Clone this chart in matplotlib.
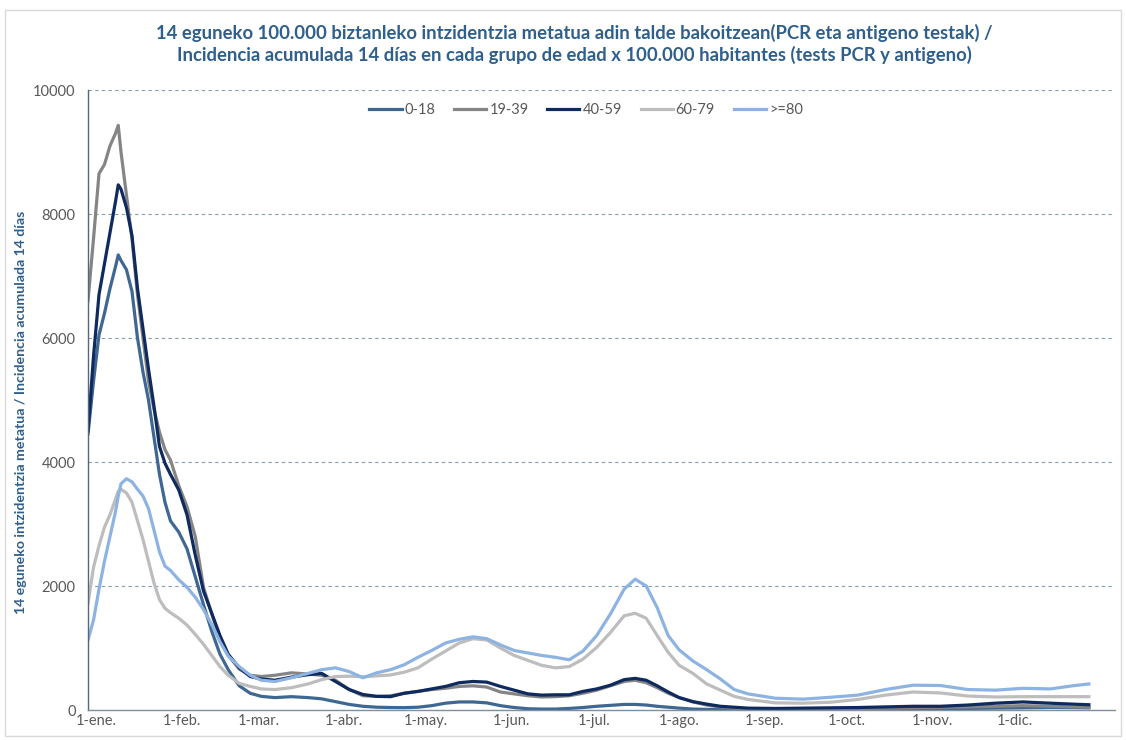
import matplotlib
matplotlib.use("Agg")
import matplotlib.pyplot as plt
from matplotlib.patches import Rectangle

# ---- data (day of year, 0 = 1 January) ----
days = [0, 2, 4, 6, 8, 10, 11, 12, 14, 16, 18, 20, 22, 24, 26, 28, 30, 33, 36, 39,
        42, 45, 48, 51, 55, 59, 63, 68, 74, 80, 85, 90, 95, 100, 105, 110, 115, 120,
        125, 130, 135, 140, 145, 150, 155, 160, 165, 170, 175, 180, 185, 190, 195, 199,
        203, 207, 211, 215, 220, 225, 230, 235, 240, 250, 260, 270, 280, 290, 300, 310,
        320, 330, 340, 350, 358, 364]

age_0_18 = [4450, 5300, 6050, 6400, 6800, 7150, 7340, 7250, 7100, 6750, 6000, 5450, 5000, 4400,
            3800, 3350, 3050, 2870, 2600, 2150, 1700, 1270, 900, 650, 390, 270, 220, 200, 215,
            200, 180, 135, 90, 60, 45, 40, 38, 45, 70, 110, 130, 130, 115, 70, 40, 20, 15, 15,
            25, 40, 60, 75, 90, 90, 80, 60, 45, 30, 15, 10, 10, 10, 10, 12, 12, 15, 15, 18,
            20, 22, 25, 30, 35, 40, 38, 35]

age_19_39 = [6600, 7600, 8650, 8800, 9100, 9300, 9430, 9000, 8300, 7600, 6700, 6000, 5300, 4850,
             4480, 4200, 4030, 3620, 3280, 2800, 1980, 1550, 1150, 880, 660, 560, 540, 560, 600,
             580, 560, 480, 330, 230, 220, 230, 270, 300, 330, 350, 380, 390, 370, 290, 260, 230,
             210, 215, 230, 270, 320, 390, 460, 480, 440, 360, 270, 200, 130, 80, 50, 30, 20, 15,
             15, 20, 25, 30, 40, 45, 50, 60, 70, 60, 50, 45]

age_40_59 = [4500, 5700, 6700, 7200, 7700, 8200, 8470, 8400, 8100, 7650, 6800, 6150, 5500, 4900,
             4250, 3980, 3800, 3550, 3150, 2500, 1920, 1560, 1200, 900, 680, 540, 500, 480, 530,
             570, 590, 460, 330, 250, 220, 215, 270, 300, 340, 380, 440, 460, 450, 380, 320, 260,
             240, 245, 245, 300, 340, 400, 490, 510, 480, 390, 290, 200, 135, 95, 60, 45, 30, 25,
             30, 35, 40, 50, 60, 60, 80, 110, 130, 110, 95, 85]

age_60_79 = [1720, 2300, 2650, 2950, 3150, 3400, 3530, 3560, 3500, 3350, 3050, 2750, 2400, 2050,
             1780, 1640, 1570, 1480, 1370, 1220, 1060, 880, 700, 560, 430, 380, 340, 330, 360,
             420, 490, 540, 545, 535, 550, 565, 610, 680, 820, 950, 1080, 1150, 1130, 1000, 880,
             800, 720, 680, 700, 820, 1010, 1250, 1520, 1560, 1480, 1200, 930, 720, 590, 420,
             320, 220, 170, 115, 110, 125, 170, 240, 290, 275, 225, 210, 215, 215, 215, 215]

age_80_plus = [1130, 1450, 1950, 2400, 2800, 3200, 3450, 3650, 3730, 3680, 3560, 3450, 3250, 2900,
               2550, 2320, 2250, 2100, 1980, 1820, 1620, 1380, 1100, 870, 700, 560, 480, 460, 520,
               590, 650, 680, 620, 520, 600, 650, 730, 850, 960, 1080, 1140, 1180, 1150, 1050,
               960, 920, 880, 850, 810, 950, 1200, 1550, 1950, 2110, 2000, 1650, 1200, 970, 790,
               650, 500, 330, 260, 190, 175, 205, 240, 330, 400, 395, 330, 320, 350, 340, 390, 420]

series_labels = ["0-18", "19-39", "40-59", "60-79", ">=80"]
month_days = [0, 31, 59, 90, 120, 151, 181, 212, 243, 273, 304, 334]
month_labels = ["1-ene.", "1-feb.", "1-mar.", "1-abr.", "1-may.", "1-jun.", "1-jul.",
                "1-ago.", "1-sep.", "1-oct.", "1-nov.", "1-dic."]
y_ticks = [0, 2000, 4000, 6000, 8000, 10000]

title = ("14 eguneko 100.000 biztanleko intzidentzia metatua adin talde bakoitzean(PCR eta antigeno testak) /\n"
         "Incidencia acumulada 14 días en cada grupo de edad x 100.000 habitantes (tests PCR y antigeno)")
ylabel = "14 eguneko intzidentzia metatua / Incidencia acumulada 14 días"

# ---- style ----
colors = ["#3E6791", "#858585", "#0E2A5E", "#BDBDBD", "#8DB3E2"]
title_color = "#2F5F8C"
tick_color = "#595959"
label_shift_days = 3.0  # labels sit slightly right of the month start

plt.rcParams['font.family'] = ['Lato', 'DejaVu Sans']

fig = plt.figure(figsize=(11.26, 7.40), dpi=100)
fig.patches.append(Rectangle((0.004, 0.006), 0.992, 0.981, transform=fig.transFigure,
                             fill=False, edgecolor="#D9D9D9", linewidth=1.0))
ax = fig.add_axes([88 / 1126, 30 / 740, (1115 - 88) / 1126, (710 - 90) / 740])

all_series = [age_0_18, age_19_39, age_40_59, age_60_79, age_80_plus]
for vals, lab, col in zip(all_series, series_labels, colors):
    ax.plot(days, vals, color=col, linewidth=2.3, label=lab, solid_joinstyle='round')

ax.set_xlim(0, 373.5)
ax.set_ylim(0, 10000)
ax.set_yticks(y_ticks)
ax.set_yticklabels([str(v) for v in y_ticks])
ax.set_xticks([d + label_shift_days for d in month_days])
ax.set_xticklabels(month_labels)

ax.tick_params(axis='both', length=0, colors=tick_color, labelsize=10.5)
ax.tick_params(axis='y', pad=9)
ax.tick_params(axis='x', pad=3)

ax.grid(axis='y', linestyle=(0, (3, 3)), color="#7F9BB5", linewidth=0.8)
ax.set_axisbelow(True)
for s in ['top', 'right']:
    ax.spines[s].set_visible(False)
ax.spines['left'].set_color("#56677A")
ax.spines['bottom'].set_color("#7F8FA0")
ax.spines['left'].set_linewidth(1.0)
ax.spines['bottom'].set_linewidth(1.0)

ax.set_ylabel(ylabel, color=title_color, fontsize=10.2, fontweight='bold')
ax.yaxis.set_label_coords(-0.059, 0.48)

fig.text(0.51, 0.968, title, ha='center', va='top', color=title_color,
         fontsize=13.3, fontweight='bold', linespacing=1.3)

leg = ax.legend(loc='upper center', bbox_to_anchor=(0.485, 1.0), ncol=5, frameon=False,
                fontsize=10.5, handlelength=2.2, handletextpad=0.2, columnspacing=1.3)
for t in leg.get_texts():
    t.set_color(tick_color)

fig.savefig("out.png", dpi=100, facecolor="white")
